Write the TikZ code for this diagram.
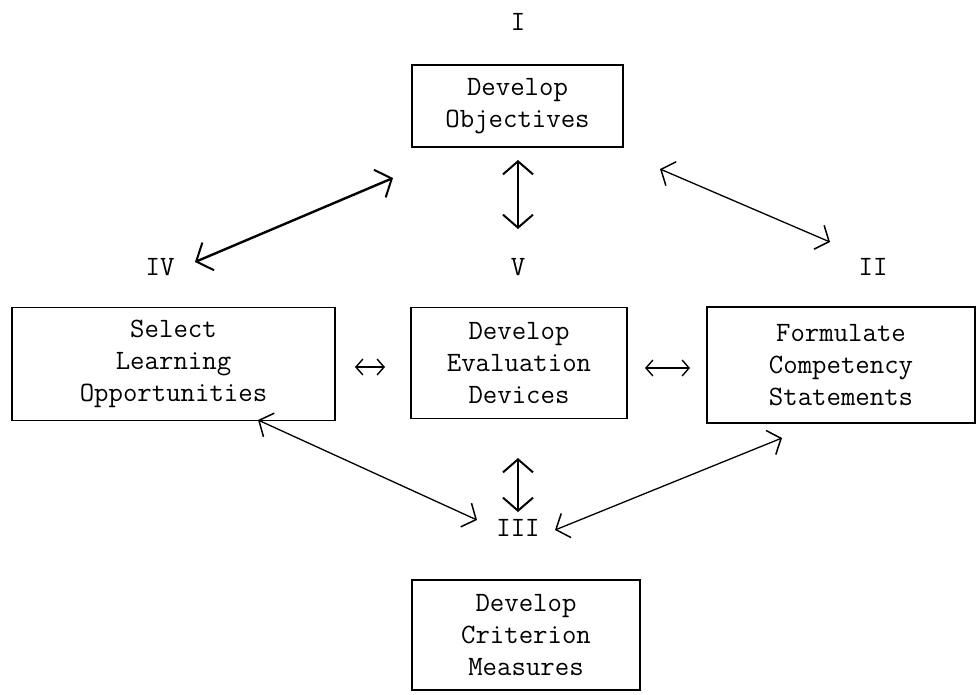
\documentclass[tikz,border=0pt]{standalone}
\usetikzlibrary{arrows.meta}
\begin{document}
\begin{tikzpicture}[x=1pt,y=-1pt,
  box/.style={draw,line width=1.8pt,align=center,inner sep=0pt,font=\ttfamily\fontsize{28}{32}\selectfont},
  lbl/.style={font=\ttfamily\fontsize{28}{30}\selectfont,inner sep=0pt},
  link/.style={line width=1.3pt,{Straight Barb[length=11pt,width=26pt,line width=1.5pt]}-{Straight Barb[length=11pt,width=26pt,line width=1.5pt]}},
  thick link/.style={line width=2.4pt,{Straight Barb[length=13pt,width=30pt,line width=2pt]}-{Straight Barb[length=13pt,width=30pt,line width=2pt]}},
  small link/.style={line width=1.3pt,{Straight Barb[length=7pt,width=16pt,line width=1.4pt]}-{Straight Barb[length=7pt,width=16pt,line width=1.4pt]}}]
\useasboundingbox (0,0) rectangle (979,694);
% boxes
\node[box,minimum width=211pt,minimum height=82pt] (obj) at (517.5,106) {Develop\\Objectives};
\node[box,minimum width=323pt,minimum height=113pt] (sel) at (173.5,364) {Select\\Learning\\Opportunities};
\node[box,minimum width=216pt,minimum height=111pt] (eva) at (519,363) {Develop\\Evaluation\\Devices};
\node[box,minimum width=268pt,minimum height=116pt] (for) at (841,365) {Formulate\\Competency\\Statements};
\node[box,minimum width=228pt,minimum height=110pt] (cri) at (526,635) {Develop\\Criterion\\Measures};
% labels
\node[lbl] (l1) at (518,22) {I};
\node[lbl] (l4) at (160,267) {IV};
\node[lbl] (l5) at (518,267) {V};
\node[lbl] (l2) at (873,267) {II};
\node[lbl] (l3) at (518,528) {III};
% arrow end points
\coordinate (a1) at (195,262);
\coordinate (a2) at (393,178);
\coordinate (b1) at (518,160);
\coordinate (b2) at (518,229);
\coordinate (c1) at (660,169);
\coordinate (c2) at (830,242);
\coordinate (d1) at (355,367);
\coordinate (d2) at (385,367);
\coordinate (e1) at (645,368);
\coordinate (e2) at (690,368);
\coordinate (f1) at (258,420);
\coordinate (f2) at (477,520);
\coordinate (g1) at (518,458);
\coordinate (g2) at (518,512);
\coordinate (h1) at (782,438);
\coordinate (h2) at (555,530);
% connectors
\draw[thick link] (a1) -- (a2);
\draw[thick link] (b1) -- (b2);
\draw[link] (c1) -- (c2);
\draw[small link] (d1) -- (d2);
\draw[small link] (e1) -- (e2);
\draw[link] (f1) -- (f2);
\draw[thick link] (g1) -- (g2);
\draw[link] (h1) -- (h2);
\end{tikzpicture}
\end{document}
